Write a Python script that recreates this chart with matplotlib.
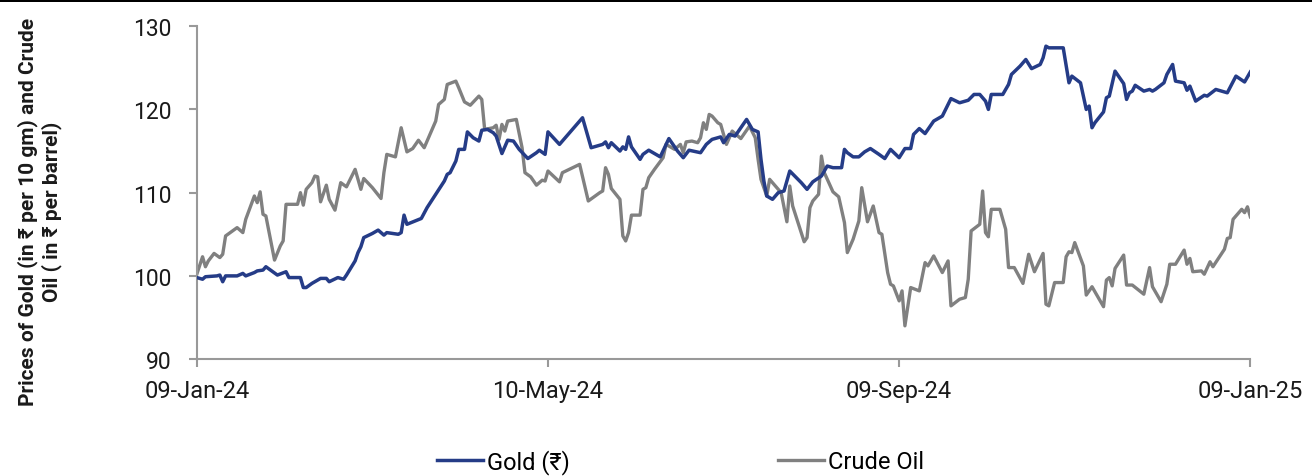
import numpy as np
import pandas as pd
import matplotlib
matplotlib.use("Agg")
import matplotlib.pyplot as plt
import matplotlib.dates as mdates
from matplotlib.patches import Rectangle

START = pd.Timestamp("2024-01-09")

# days since 09-Jan-24
gold_days = [0, 2, 3, 7, 8, 9, 10, 14, 16, 17, 20, 21, 23, 24, 26, 28, 31, 32, 36, 37,
             38, 40, 43, 45, 46, 49, 51, 52, 55, 56, 57, 58, 61, 63, 65, 66, 70, 71, 72, 73,
             78, 80, 83, 86, 87, 88, 90, 91, 93, 94, 96, 98, 99, 101, 103, 104, 106, 107, 108, 110,
             112, 115, 118, 119, 121, 122, 126, 129, 134, 137, 141, 142, 143, 144, 147, 148, 149, 150, 151, 154,
             155, 157, 161, 164, 167, 169, 171, 175, 177, 179, 182, 183, 185, 187, 191, 193, 195, 196, 197, 198,
             200, 202, 204, 206, 210, 212, 214, 217, 219, 221, 224, 225, 226, 228, 230, 232, 234, 237, 239, 241,
             244, 246, 248, 249, 251, 253, 256, 259, 262, 265, 268, 270, 272, 274, 275, 276, 280, 282, 283, 286,
             288, 290, 293, 294, 295, 296, 301, 303, 304, 307, 309, 310, 311, 312, 315, 316, 317, 319, 322, 323,
             324, 325, 326, 329, 331, 332, 333, 336, 337, 339, 340, 343, 344, 345, 347, 350, 351, 354, 358, 361,
             364, 366]
gold_vals = [99.8, 99.6, 99.9, 100.0, 100.1, 99.3, 100.0, 100.0, 100.3, 100.0, 100.4, 100.6, 100.7, 101.1, 100.6, 100.1, 100.5, 99.8, 99.8, 98.6,
             98.6, 99.1, 99.7, 99.7, 99.3, 99.8, 99.6, 100.1, 101.8, 102.8, 103.5, 104.6, 105.1, 105.5, 104.9, 105.2, 105.0, 105.2, 107.3, 106.2,
             106.9, 108.2, 109.8, 111.4, 112.2, 112.4, 113.8, 115.2, 115.2, 117.3, 116.6, 116.2, 117.5, 117.6, 117.2, 116.8, 114.7, 115.5, 116.3, 116.2,
             115.2, 114.1, 114.8, 115.1, 114.6, 117.3, 115.8, 117.0, 119.0, 115.4, 115.8, 116.1, 115.4, 116.0, 115.0, 115.5, 115.2, 116.7, 115.5, 114.0,
             114.6, 115.1, 114.3, 116.5, 115.0, 114.2, 115.1, 114.8, 115.8, 116.4, 116.7, 116.0, 117.0, 116.8, 118.8, 117.6, 117.3, 114.0, 111.4, 109.6,
             109.2, 110.0, 110.2, 112.6, 111.2, 110.4, 111.3, 112.0, 113.2, 113.0, 113.0, 115.2, 114.8, 114.3, 114.3, 114.9, 115.3, 114.6, 114.1, 115.2,
             114.2, 115.3, 115.3, 117.0, 117.7, 117.1, 118.6, 119.2, 121.3, 120.8, 121.1, 121.8, 121.8, 121.0, 120.0, 121.8, 121.8, 123.0, 124.2, 125.2,
             126.0, 124.9, 125.4, 126.2, 127.6, 127.4, 127.4, 123.2, 124.0, 123.2, 120.0, 120.4, 117.8, 118.4, 119.7, 121.4, 121.6, 124.6, 123.1, 121.2,
             122.0, 122.2, 122.9, 122.2, 122.4, 122.2, 122.4, 123.2, 124.2, 125.4, 123.4, 123.2, 122.3, 122.8, 121.0, 121.7, 121.6, 122.4, 122.0, 124.0,
             123.3, 124.5]

oil_days = [0, 2, 3, 4, 6, 8, 9, 10, 14, 16, 17, 20, 21, 22, 23, 24, 27, 29, 30, 31,
            35, 36, 37, 38, 40, 41, 42, 43, 45, 46, 48, 50, 52, 55, 56, 57, 58, 61, 64, 65,
            66, 69, 71, 73, 75, 77, 79, 83, 84, 86, 87, 90, 91, 93, 95, 98, 99, 100, 103, 104,
            105, 106, 107, 108, 111, 113, 114, 116, 118, 120, 121, 122, 126, 127, 133, 136, 140, 141, 142, 143,
            144, 147, 148, 149, 150, 151, 154, 155, 156, 157, 159, 162, 163, 166, 168, 169, 170, 172, 174, 175,
            176, 177, 178, 179, 181, 182, 184, 186, 189, 192, 194, 195, 196, 198, 199, 203, 205, 206, 207, 211,
            212, 213, 214, 216, 217, 218, 221, 223, 225, 226, 228, 230, 231, 233, 235, 237, 238, 240, 241, 242,
            244, 245, 246, 248, 251, 253, 254, 256, 259, 261, 262, 265, 267, 268, 269, 272, 273, 274, 275, 276,
            279, 281, 282, 284, 287, 289, 291, 294, 295, 296, 298, 301, 302, 303, 304, 305, 308, 309, 311, 315,
            316, 317, 318, 319, 322, 323, 325, 329, 331, 332, 335, 337, 338, 340, 343, 344, 345, 346, 349, 350,
            352, 353, 357, 358, 359, 360, 363, 364, 365, 366]
oil_vals = [100.2, 102.3, 101.1, 101.8, 102.7, 102.2, 102.6, 104.8, 105.8, 105.2, 106.8, 109.6, 108.8, 110.1, 107.4, 107.2, 101.9, 103.6, 104.2, 108.6,
            108.6, 110.0, 108.5, 110.4, 111.2, 112.0, 111.9, 108.9, 110.9, 109.2, 107.9, 111.2, 110.7, 112.8, 111.6, 110.4, 111.7, 110.6, 109.3, 112.4,
            114.6, 114.3, 117.8, 114.9, 115.3, 116.3, 115.4, 118.6, 120.6, 121.2, 123.0, 123.4, 122.6, 120.9, 120.5, 121.6, 121.2, 117.6, 117.8, 118.1,
            116.4, 118.2, 117.4, 118.6, 118.8, 115.4, 112.4, 111.9, 110.9, 111.5, 111.4, 112.6, 111.3, 112.4, 113.4, 109.0, 110.0, 110.2, 113.0, 112.2,
            110.5, 109.2, 104.8, 104.2, 105.2, 107.3, 107.3, 110.4, 110.6, 111.8, 112.8, 114.2, 115.8, 115.2, 115.8, 114.8, 116.1, 116.2, 116.0, 116.6,
            118.4, 117.6, 119.4, 119.2, 118.4, 118.2, 115.8, 117.4, 116.5, 118.0, 116.6, 114.0, 111.6, 109.6, 111.6, 110.0, 106.5, 110.8, 108.4, 104.1,
            104.6, 108.2, 109.0, 109.8, 114.4, 112.4, 110.1, 109.5, 106.4, 102.8, 104.4, 106.6, 110.6, 106.5, 108.4, 105.2, 105.0, 100.4, 99.0, 98.8,
            97.0, 98.2, 94.0, 98.6, 98.2, 101.6, 101.2, 102.4, 100.4, 101.8, 96.4, 97.2, 97.4, 99.6, 105.4, 106.2, 110.2, 105.2, 104.7, 108.0,
            108.0, 105.6, 101.0, 101.0, 99.1, 102.6, 100.5, 102.7, 96.6, 96.4, 99.2, 99.2, 102.3, 102.9, 102.8, 104.0, 101.2, 97.7, 98.7, 96.3,
            99.5, 99.8, 98.8, 100.9, 102.5, 98.9, 98.9, 97.8, 101.0, 98.7, 96.9, 99.0, 101.4, 101.4, 103.1, 101.4, 102.1, 100.5, 100.6, 100.2,
            101.7, 101.1, 103.2, 104.5, 104.6, 106.8, 108.0, 107.6, 108.3, 107.1]

tick_dates = ["2024-01-09", "2024-05-10", "2024-09-09", "2025-01-09"]
y_ticks = [90, 100, 110, 120, 130]

GOLD_COLOR = "#253C87"
OIL_COLOR = "#808080"
AXIS_COLOR = "#999999"

plt.rcParams["font.family"] = ["Roboto", "DejaVu Sans"]


def main():
    gold_x = START + pd.to_timedelta(gold_days, unit="D")
    oil_x = START + pd.to_timedelta(oil_days, unit="D")

    fig = plt.figure(figsize=(13.12, 4.77), dpi=100)
    ax = fig.add_axes([0.150, 0.245, 0.803, 0.698])

    ax.plot(gold_x, gold_vals, color=GOLD_COLOR, linewidth=2.5, label="Gold (₹)",
            solid_joinstyle="round", zorder=3)
    ax.plot(oil_x, oil_vals, color=OIL_COLOR, linewidth=2.4, label="Crude Oil",
            solid_joinstyle="round", zorder=2)

    ax.set_ylim(90, 130)
    ax.set_yticks(y_ticks)
    ticks = pd.to_datetime(tick_dates)
    ax.set_xlim(ticks[0], ticks[-1])
    ax.set_xticks(ticks)
    ax.xaxis.set_major_formatter(mdates.DateFormatter("%d-%b-%y"))

    for side in ["top", "right"]:
        ax.spines[side].set_visible(False)
    for side in ["left", "bottom"]:
        ax.spines[side].set_color(AXIS_COLOR)
        ax.spines[side].set_linewidth(1.5)
    ax.tick_params(axis="both", colors=AXIS_COLOR, width=1.5, length=6,
                   labelcolor="#1a1a1a")
    ax.tick_params(axis="x", pad=8, labelsize=17)
    ax.tick_params(axis="y", pad=12, labelsize=16.5)

    fig.text(0.0305, 0.556, "Prices of Gold (in ₹ per 10 gm) and Crude\nOil ( in ₹ per barrel)",
             rotation=90, ha="center", va="center", multialignment="center",
             fontsize=15, fontweight="bold", color="#1a1a1a")

    # legend sits low, as in the source, but kept fully inside the canvas
    fig.legend(loc="center left", bbox_to_anchor=(437 / 1312, 0.031), ncol=2, frameon=False,
               fontsize=17, handlelength=1.95, handletextpad=0.17, columnspacing=8.8,
               borderpad=0, borderaxespad=0)

    # thin black band along the top edge
    fig.patches.append(Rectangle((0, 1 - 3 / 477), 1, 3 / 477, transform=fig.transFigure,
                                 facecolor="black", edgecolor="none"))

    fig.savefig("out.png", dpi=100)
    plt.close(fig)


if __name__ == "__main__":
    main()
